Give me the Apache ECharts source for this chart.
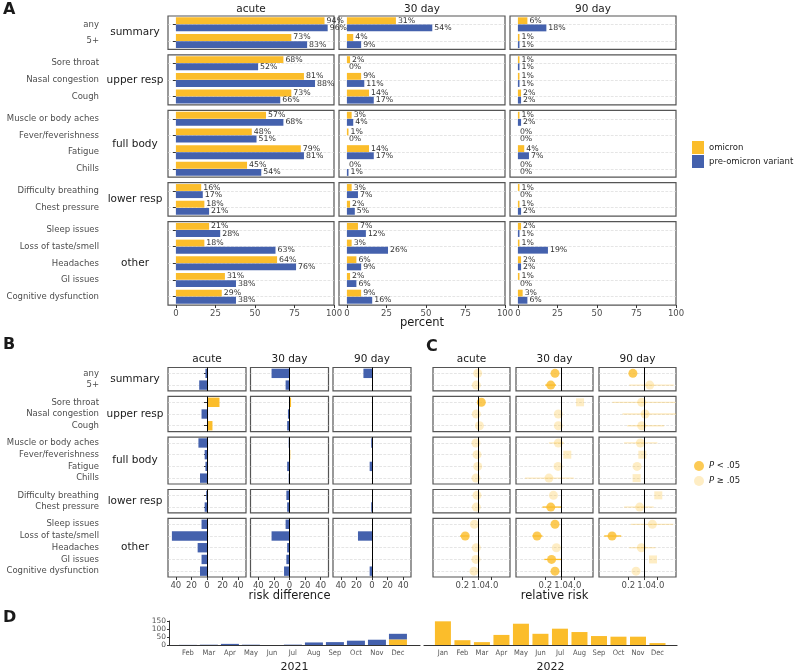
<!DOCTYPE html>
<html><head><meta charset="utf-8">
<script src="https://cdn.jsdelivr.net/npm/echarts@6/dist/echarts.min.js"></script>
<style>html,body{margin:0;padding:0;background:#fff}#c{width:797px;height:671px}</style>
</head><body><div id="c"></div>
<script>
// ---------- data ----------
const groups = ['summary','upper resp','full body','lower resp','other'];
const groupSizes = [2,3,4,2,5];
const symptoms = ['any','5+','Sore throat','Nasal congestion','Cough','Muscle or body aches','Fever/feverishness','Fatigue','Chills','Difficulty breathing','Chest pressure','Sleep issues','Loss of taste/smell','Headaches','GI issues','Cognitive dysfunction'];
const periods = ['acute','30 day','90 day'];

// Panel A: percent with symptom
const omicronAcute = [94,73,68,81,73,57,48,79,45,16,18,21,18,64,31,29];
const preAcute     = [96,83,52,88,66,68,51,81,54,17,21,28,63,76,38,38];
const omicron30    = [31,4,2,9,14,3,1,14,0,3,2,7,3,6,2,9];
const pre30        = [54,9,0,11,17,4,0,17,1,7,5,12,26,9,6,16];
const omicron90    = [6,1,1,1,2,1,0,4,0,1,1,2,1,2,1,3];
const pre90        = [18,1,1,1,2,2,0,7,0,0,2,1,19,2,0,6];
const percentTicks = [0,25,50,75,100];

// Panel B: risk difference (omicron - pre-omicron)
const rdAcute = [-2,-10,16,-7,7,-11,-3,-2,-9,-1,-3,-7,-45,-12,-7,-9];
const rd30    = [-23,-5,2,-2,-3,-1,1,-3,-1,-4,-3,-5,-23,-3,-4,-7];
const rd90    = [-11,0,0,0,0,-1,0,-3,0,1,-1,1,-18,0,1,-3];
const rdTicks = [-40,-20,0,20,40];

// Panel C: relative risk
const rrAcute = [0.97,0.84,1.4,0.84,1.15,0.81,0.90,0.97,0.81,0.90,0.84,0.69,0.27,0.84,0.81,0.66];
const rr30    = [0.54,0.35,7.0,0.76,0.76,0.76,1.9,0.74,0.29,0.46,0.35,0.54,0.086,0.62,0.38,0.54];
const rr90    = [0.32,1.79,0.79,1.11,0.79,0.69,0.84,0.49,0.47,4.3,0.64,2.35,0.038,0.76,2.5,0.44];
const sigAcute = [0,0,1,0,0,0,0,0,0,0,0,0,1,0,0,0];
const sig30    = [1,1,0,0,0,0,0,0,0,0,1,1,1,0,1,1];
const sig90    = [1,0,0,0,0,0,0,0,0,0,0,0,1,0,0,0];
const zeroRefAcute = [0,0,0,0,0,0,0,0,0,0,0,0,0,0,0,0];
const zeroRef30    = [0,0,1,0,0,0,1,0,0,0,0,0,0,0,0,0];
const zeroRef90    = [0,0,0,0,0,0,1,0,1,1,0,0,0,0,1,0];
const ciLoAcute = [null,null,null,null,null,null,null,null,null,null,null,null,0.16,null,null,null];
const ciHiAcute = [null,null,null,null,null,null,null,null,null,null,null,null,0.39,null,null,null];
const ciLo30 = [null,0.2,null,null,null,0.29,null,null,0.025,null,0.15,null,0.054,null,0.18,null];
const ciHi30 = [null,0.6,null,null,null,1.36,null,null,3.7,null,1.0,null,0.15,null,1.0,null];
const ciLo90 = [null,0.22,0.039,0.11,0.18,0.13,null,null,null,null,0.13,0.26,0.017,0.22,null,null];
const ciHi90 = [null,21,25,30,7.8,3.9,null,null,null,null,2.7,20,0.097,3.2,null,null];
const rrTicks = [0.2,1.0,4.0];

// Panel D: monthly enrolment
const monthNames = ['Jan','Feb','Mar','Apr','May','Jun','Jul','Aug','Sep','Oct','Nov','Dec'];
const months2021 = ['Feb','Mar','Apr','May','Jun','Jul','Aug','Sep','Oct','Nov','Dec'];
const pre2021    = [2,5,7,5,0,6,16,18,27,33,35];
const omi2021    = [0,0,0,0,0,0,0,0,0,0,35];
const faint2021  = [1,1,0,1,1,1,0,0,0,0,0];
const months2022 = ['Jan','Feb','Mar','Apr','May','Jun','Jul','Aug','Sep','Oct','Nov','Dec'];
const omi2022    = [148,30,18,63,133,70,102,81,56,52,52,12];
const countTicks = [0,50,100,150];

// ---------- styling ----------
const ORANGE = '#fbbd2b';
const ORANGE_L = 'rgba(251,189,43,0.35)';
const BLUE = '#4461ad';
const BLUE_L = 'rgba(68,97,173,0.38)';
const FONT = 'DejaVu Sans';
const LAB = 8.5, STRIP = 10.5, TICK = 8.5;
const groupStart = groupSizes.map((n,i)=>groupSizes.slice(0,i).reduce((a,b)=>a+b,0));

const grid=[], xAxis=[], yAxis=[], series=[], graphic=[];
function addGrid(g){
  grid.push(Object.assign({show:true, borderColor:'#555', borderWidth:1.2, backgroundColor:'rgba(0,0,0,0)', containLabel:false, outerBoundsMode:'none'}, g));
  return grid.length-1;
}
function txt(x,y,text,size,opts){
  graphic.push({type:'text', x:x, y:y, silent:true, style:Object.assign({text:text, fill:'#1a1a1a', font:(opts&&opts.bold?'bold ':'')+size+'px '+FONT, align:(opts&&opts.align)||'center', verticalAlign:(opts&&opts.va)||'middle'})});
}
function catAxis(gi, cats, showLabels){
  return {type:'category', gridIndex:gi, inverse:true, data:cats, offset:64,
    axisLine:{show:false},
    axisTick:{show:showLabels, length:3, alignWithLabel:true, lineStyle:{color:'#333'}},
    axisLabel:{show:showLabels, fontSize:LAB, color:'#4d4d4d', margin:5, fontFamily:FONT},
    splitLine:{show:true, alignWithLabel:true, lineStyle:{type:'dashed', color:'#dadada', width:0.7}}};
}
function tickLabel(show, vals, fmt){
  const o = {show:show, customValues:vals, fontSize:TICK, color:'#4d4d4d', margin:4, fontFamily:FONT, hideOverlap:false, showMinLabel:true, showMaxLabel:true};
  if (fmt) o.formatter = fmt;
  return o;
}

// ---------- Panel A ----------
const A = {cols:[168,339,510], w:166, top:16, h:16.69, gap:5.5};
const pctData = [[omicronAcute,preAcute],[omicron30,pre30],[omicron90,pre90]];
for (let c=0;c<3;c++){
  let y = A.top;
  for (let g=0; g<5; g++){
    const n=groupSizes[g], s=groupStart[g], bottom = g===4;
    const gi = addGrid({left:A.cols[c], top:y, width:A.w, height:n*A.h});
    xAxis.push({type:'value', gridIndex:gi, min:-5, max:100, splitLine:{show:false}, axisLine:{show:false},
      axisTick:{show:bottom, customValues:percentTicks, length:3, lineStyle:{color:'#333'}},
      axisLabel:tickLabel(bottom, percentTicks)});
    yAxis.push(catAxis(gi, symptoms.slice(s,s+n), c===0));
    const lab = {show:true, position:'right', distance:2, fontSize:7.8, color:'#333', fontFamily:FONT, formatter:p=>p.value+'%'};
    series.push({type:'bar', name:'omicron', xAxisIndex:gi, yAxisIndex:gi, data:pctData[c][0].slice(s,s+n),
      itemStyle:{color:ORANGE}, barGap:'4%', barCategoryGap:'16%', label:lab});
    series.push({type:'bar', name:'pre-omicron variant', xAxisIndex:gi, yAxisIndex:gi, data:pctData[c][1].slice(s,s+n),
      itemStyle:{color:BLUE}, barGap:'4%', barCategoryGap:'16%', label:lab});
    if (c===0) txt(135, y+n*A.h/2, groups[g], STRIP);
    y += n*A.h + A.gap;
  }
  txt(A.cols[c]+A.w/2, 9, periods[c], STRIP);
}
txt(422, 323, 'percent', 11.5);

// ---------- Panel B ----------
const B = {cols:[168,250.5,333], w:78, top:367.5, h:11.72, gap:5.5};
const rdData = [rdAcute, rd30, rd90];
for (let c=0;c<3;c++){
  let y = B.top;
  for (let g=0; g<5; g++){
    const n=groupSizes[g], s=groupStart[g], bottom = g===4;
    const gi = addGrid({left:B.cols[c], top:y, width:B.w, height:n*B.h});
    xAxis.push({type:'value', gridIndex:gi, min:-50, max:50, splitLine:{show:false}, axisLine:{show:false},
      axisTick:{show:bottom, customValues:rdTicks, length:3, lineStyle:{color:'#333'}},
      axisLabel:tickLabel(bottom, rdTicks, v=>String(Math.abs(v)))});
    yAxis.push(catAxis(gi, symptoms.slice(s,s+n), c===0));
    series.push({type:'bar', name:'rd', xAxisIndex:gi, yAxisIndex:gi, barCategoryGap:'20%',
      data: rdData[c].slice(s,s+n).map(v=>({value:v, itemStyle:{color: v>0?ORANGE:BLUE}})),
      markLine:{silent:true, symbol:'none', label:{show:false}, lineStyle:{color:'#000', width:1, type:'solid'}, data:[{xAxis:0}]}});
    if (c===0) txt(135, y+n*B.h/2, groups[g], STRIP);
    y += n*B.h + B.gap;
  }
  txt(B.cols[c]+B.w/2, 359, periods[c], STRIP);
}
txt(289.5, 596, 'risk difference', 11.5);

// ---------- Panel C ----------
const C = {cols:[433,516,599], w:77, top:367.5, h:11.72, gap:5.5};
const rrData = [rrAcute, rr30, rr90], sigData=[sigAcute,sig30,sig90], zrData=[zeroRefAcute,zeroRef30,zeroRef90];
const ciLo=[ciLoAcute,ciLo30,ciLo90], ciHi=[ciHiAcute,ciHi30,ciHi90];
const tv = rrTicks.map(v=>Math.log10(v));
const rrFmt = v=>{let k=0,b=1e9;tv.forEach((t,i)=>{if(Math.abs(t-v)<b){b=Math.abs(t-v);k=i;}});return rrTicks[k].toFixed(1);};
for (let c=0;c<3;c++){
  let y = C.top;
  for (let g=0; g<5; g++){
    const n=groupSizes[g], s=groupStart[g], bottom = g===4;
    const gi = addGrid({left:C.cols[c], top:y, width:C.w, height:n*C.h});
    xAxis.push({type:'value', gridIndex:gi, min:-2, max:1.42, splitLine:{show:false}, axisLine:{show:false},
      axisTick:{show:bottom, customValues:tv, length:3, lineStyle:{color:'#333'}},
      axisLabel:tickLabel(bottom, tv, rrFmt)});
    yAxis.push(catAxis(gi, symptoms.slice(s,s+n), false));
    const ci=[];
    for (let i=0;i<n;i++){ const k=s+i; if (ciLo[c][k]!=null) ci.push([Math.log10(ciLo[c][k]), Math.log10(ciHi[c][k]), i, sigData[c][k]]); }
    series.push({type:'custom', name:'ci', xAxisIndex:gi, yAxisIndex:gi, data:ci, z:1, silent:true,
      encode:{x:[0,1], y:2},
      renderItem:(params, api)=>{
        const cs = params.coordSys;
        const p1 = api.coord([api.value(0), api.value(2)]);
        const p2 = api.coord([api.value(1), api.value(2)]);
        const x1 = Math.max(cs.x, p1[0]), x2 = Math.min(cs.x+cs.width, p2[0]);
        return {type:'line', shape:{x1:x1, y1:p1[1], x2:x2, y2:p1[1]}, style:{stroke: api.value(3)?ORANGE:'rgba(251,189,43,0.3)', lineWidth:1.3}};
      }});
    const sigPts=[], nsPts=[];
    for (let i=0;i<n;i++){
      const k=s+i;
      const item = {value:[Math.log10(rrData[c][k]), i], symbol: zrData[c][k]?'rect':'circle', symbolSize: zrData[c][k]?8:9};
      (sigData[c][k]?sigPts:nsPts).push(item);
    }
    series.push({type:'scatter', name:'P ≥ .05', xAxisIndex:gi, yAxisIndex:gi, data:nsPts, z:2, itemStyle:{color:ORANGE_L},
      markLine:{silent:true, symbol:'none', label:{show:false}, lineStyle:{color:'#000', width:1, type:'solid'}, data:[{xAxis:0}]}});
    series.push({type:'scatter', name:'P < .05', xAxisIndex:gi, yAxisIndex:gi, data:sigPts, z:3, itemStyle:{color:ORANGE}});
    y += n*C.h + C.gap;
  }
  txt(C.cols[c]+C.w/2, 359, periods[c], STRIP);
}
txt(554.5, 596, 'relative risk', 11.5);

// ---------- Panel D ----------
function dGrid(left, width, xmin, xmax, months, yearName, showY){
  const gi = addGrid({left:left, top:621, width:width, height:24, show:false});
  xAxis.push({type:'value', gridIndex:gi, min:xmin, max:xmax, splitLine:{show:false},
    axisLine:{show:true, onZero:false, lineStyle:{color:'#333', width:1.2}}, axisTick:{show:false},
    axisLabel:{customValues:months.map(m=>monthNames.indexOf(m)+1), formatter:v=>monthNames[Math.round(v)-1], fontSize:7.5, fontFamily:'DejaVu Sans Condensed', color:'#555', margin:4},
    name:yearName, nameLocation:'middle', nameGap:17, nameTextStyle:{fontSize:11, color:'#222', fontFamily:FONT}});
  yAxis.push({type:'value', gridIndex:gi, min:0, max:150, show:showY, splitLine:{show:false},
    axisLine:{show:true, lineStyle:{color:'#333', width:1}}, axisTick:{show:true, length:2, customValues:countTicks, lineStyle:{color:'#333'}},
    axisLabel:{customValues:countTicks, fontSize:7.5, color:'#555', margin:3, fontFamily:FONT}});
  return gi;
}
const d1 = dGrid(169, 251, 1.1, 13.05, months2021, '2021', true);
// data as [count, month] so the count dimension is the stacked one
series.push({type:'bar', name:'omicron', stack:'d21', xAxisIndex:d1, yAxisIndex:d1, barWidth:18, itemStyle:{color:ORANGE},
  encode:{x:1, y:0},
  data: months2021.map((m,i)=>[omi2021[i], monthNames.indexOf(m)+1])});
series.push({type:'bar', name:'pre-omicron variant', stack:'d21', xAxisIndex:d1, yAxisIndex:d1, barWidth:18,
  encode:{x:1, y:0},
  data: months2021.map((m,i)=>({value:[pre2021[i], monthNames.indexOf(m)+1], itemStyle:{color: faint2021[i]?BLUE_L:BLUE}}))});
const d2 = dGrid(424, 253, 0.03, 13, months2022, '2022', false);
series.push({type:'bar', name:'omicron', xAxisIndex:d2, yAxisIndex:d2, barWidth:16, itemStyle:{color:ORANGE},
  data: months2022.map((m,i)=>[monthNames.indexOf(m)+1, omi2022[i]])});

// panel letters
txt(3, 10, 'A', 16, {bold:true, align:'left'});
txt(3, 345, 'B', 16, {bold:true, align:'left'});
txt(426, 347, 'C', 16, {bold:true, align:'left'});
txt(3, 618, 'D', 16, {bold:true, align:'left'});

const option = {
  animation:false,
  textStyle:{fontFamily:FONT},
  grid, xAxis, yAxis, series, graphic,
  legend:[
    {data:['omicron','pre-omicron variant'], left:692, top:141, padding:0, orient:'vertical', icon:'rect', itemWidth:12, itemHeight:13, itemGap:1, selectedMode:false,
      textStyle:{fontSize:8.5, color:'#222', fontFamily:FONT}},
    {data:['P < .05','P ≥ .05'], left:694, top:461, padding:0, orient:'vertical', icon:'circle', itemWidth:10, itemHeight:10, itemGap:5, selectedMode:false,
      formatter:name=>name.replace('P','{i|P}'),
      textStyle:{fontSize:8.5, color:'#222', fontFamily:FONT, rich:{i:{fontStyle:'italic', fontSize:8.5, color:'#222', fontFamily:FONT}}}}
  ]
};
const chart = echarts.init(document.getElementById('c'));
chart.setOption(option);
</script></body></html>
